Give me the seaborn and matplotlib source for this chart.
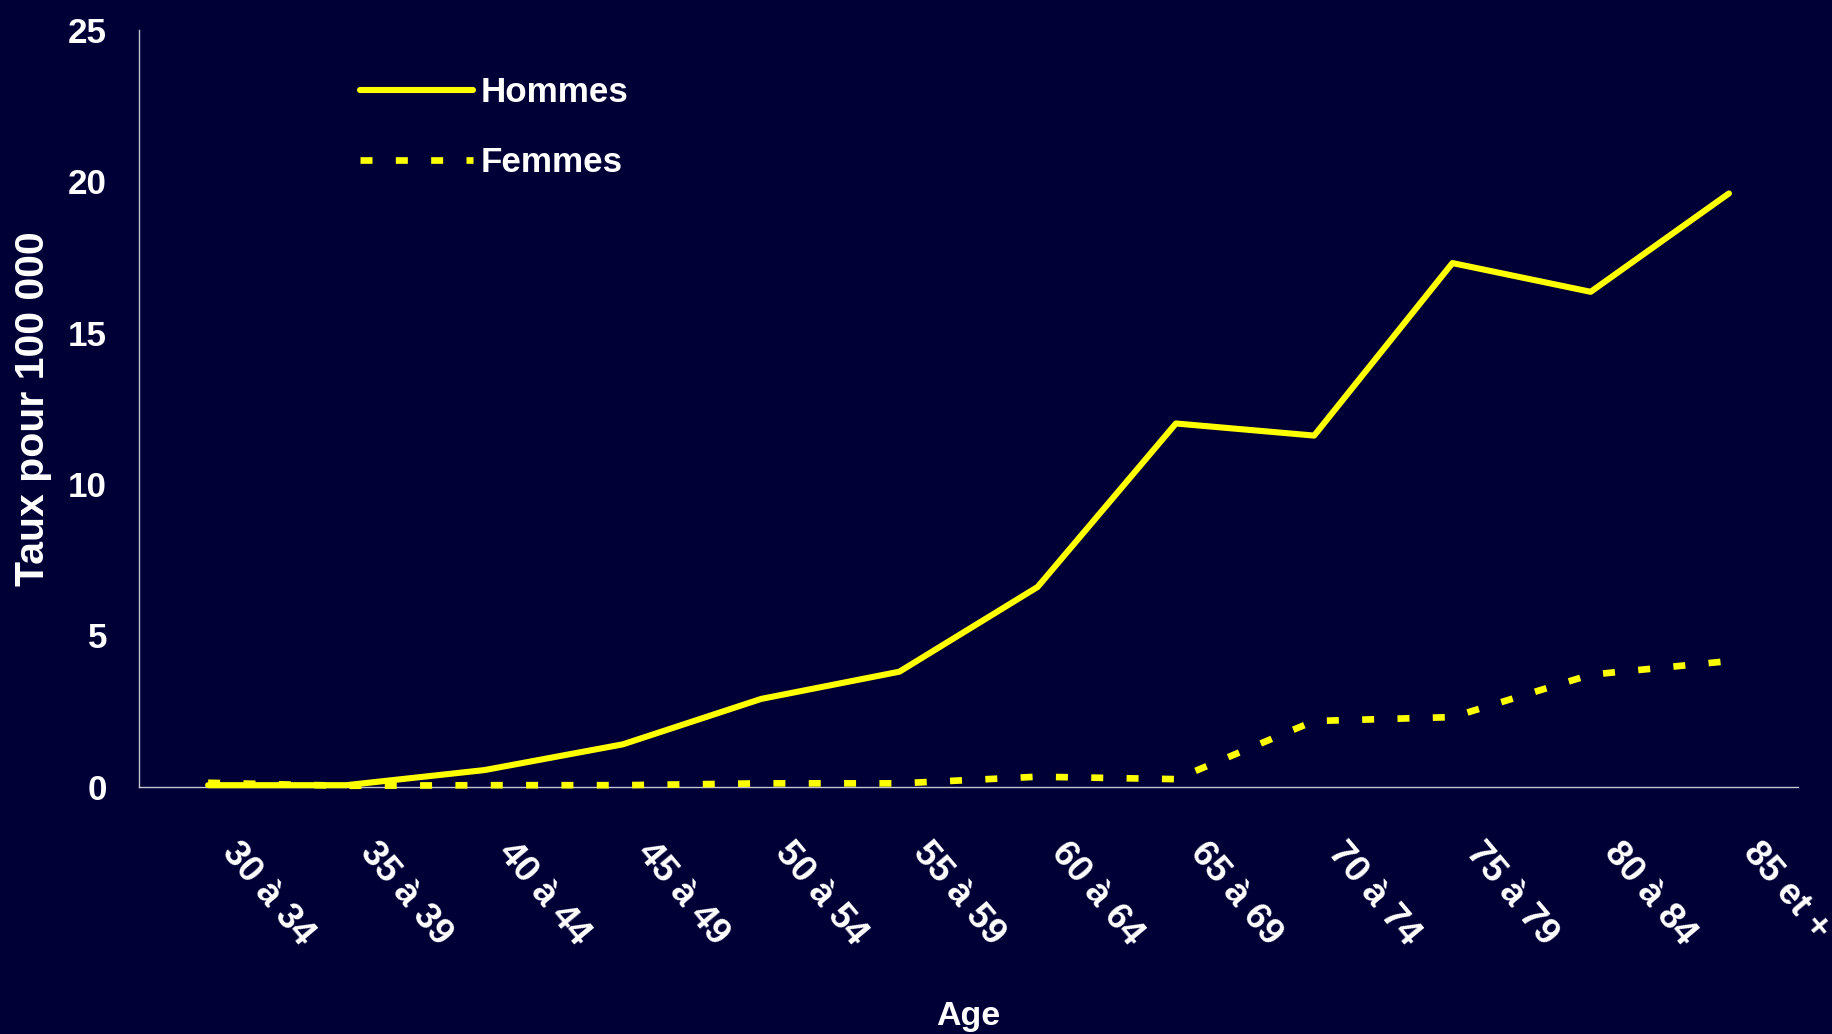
import matplotlib
matplotlib.use("Agg")
import matplotlib.pyplot as plt
import matplotlib.transforms as mtransforms
from matplotlib import font_manager
from matplotlib.ticker import FixedLocator
import numpy as np
import pandas as pd
import seaborn as sns

# Taux pour 100 000 par groupe d'âge
age_groups = ["30 à 34", "35 à 39", "40 à 44", "45 à 49", "50 à 54", "55 à 59",
              "60 à 64", "65 à 69", "70 à 74", "75 à 79", "80 à 84", "85 et +"]
hommes = [0.05, 0.05, 0.55, 1.4, 2.9, 3.8, 6.6, 12.0, 11.6, 17.3, 16.35, 19.6]
femmes = [0.13, 0.03, 0.05, 0.05, 0.11, 0.11, 0.33, 0.25, 2.17, 2.3, 3.7, 4.15]
series_names = ["Hommes", "Femmes"]
y_ticks = [0, 5, 10, 15, 20, 25]

BG = "#000036"
AXIS = "#c4c4d0"
YELLOW = "#ffff00"
DPI = 100

sns.set_style("dark")
installed = {f.name for f in font_manager.fontManager.ttflist}
if "Liberation Sans Narrow" in installed:
    narrow, nscale = "Liberation Sans Narrow", 1.0
else:
    narrow, nscale = "Liberation Sans", 0.87
plt.rcParams["font.family"] = ["Liberation Sans", "DejaVu Sans"]

df = pd.DataFrame({
    "age": age_groups * 2,
    "taux": hommes + femmes,
    "sexe": [series_names[0]] * len(age_groups) + [series_names[1]] * len(age_groups),
})

fig = plt.figure(figsize=(18.33, 10.34), dpi=DPI, facecolor=BG)
ax = fig.add_axes([0.07583, 0.23917, 0.9051, 0.73182])
ax.set_facecolor(BG)

sns.lineplot(data=df, x="age", y="taux", style="sexe", color=YELLOW,
             dashes={"Hommes": "", "Femmes": (1.8, 3.5)},
             linewidth=4.6, legend=False, ax=ax, sort=False)
for line, lw in zip(ax.lines, [4.4, 4.8]):
    line.set_linewidth(lw)
    line.set_clip_on(False)
    line.set_zorder(5)

ax.set_xlim(-0.5, len(age_groups) - 0.5)
ax.set_ylim(0, 25)
ax.set_yticks(y_ticks)
ax.set_yticklabels([str(v) for v in y_ticks])
ax.grid(False)

for side in ("top", "right"):
    ax.spines[side].set_visible(False)
for side in ("left", "bottom"):
    ax.spines[side].set_color(AXIS)
    ax.spines[side].set_linewidth(1.0)

# category boundaries carry the tick marks, labels sit at category centres
ax.xaxis.set_minor_locator(FixedLocator(np.arange(-0.5, len(age_groups), 1.0)))
ax.tick_params(axis="x", which="minor", length=10, width=1.0, color=AXIS, direction="out")
ax.tick_params(axis="x", which="major", length=0, pad=0, labelrotation=-50)
ax.tick_params(axis="y", which="major", length=8.6, width=1.0, color=AXIS,
               direction="out", pad=14.4)
ax.set_xticks(range(len(age_groups)))
ax.set_xticklabels(age_groups)

offset = mtransforms.ScaledTranslation(20 / DPI, -60 / DPI, fig.dpi_scale_trans)
for lab in ax.get_xticklabels():
    lab.set_ha("left")
    lab.set_va("center")
    lab.set_rotation_mode("anchor")
    lab.set_fontsize(26.5)
    lab.set_fontweight("bold")
    lab.set_color("white")
    lab.set_transform(lab.get_transform() + offset)

for lab in ax.get_yticklabels():
    lab.set_family(narrow)
    lab.set_fontsize(29 * nscale)
    lab.set_fontweight("bold")
    lab.set_color("white")

ax.set_ylabel("Taux pour 100 000", fontsize=29.5, fontweight="bold", color="white")
ax.yaxis.set_label_coords(-0.0636, 0.5)
ax.yaxis.label.set_va("center")

ax.set_xlabel("Age", family=narrow, fontsize=28 * nscale, fontweight="bold", color="white")
ax.xaxis.set_label_coords(0.5, -0.315)
ax.xaxis.label.set_va("baseline")

# legend geometry in pixels, converted to font-size units
leg_size = 29 * nscale
leg_px = leg_size * DPI / 72
leg = ax.legend(ax.lines[:2], series_names, loc="upper left",
                bbox_to_anchor=(0.1964, 0.9262), bbox_transform=fig.transFigure,
                frameon=False, borderpad=0, borderaxespad=0,
                handlelength=113 / leg_px, handletextpad=8 / leg_px,
                labelspacing=(70 - 0.94 * leg_px) / leg_px,
                prop={"family": narrow, "size": leg_size, "weight": "bold"})
for txt in leg.get_texts():
    txt.set_color("white")

fig.savefig("out.png", dpi=DPI, facecolor=BG)
